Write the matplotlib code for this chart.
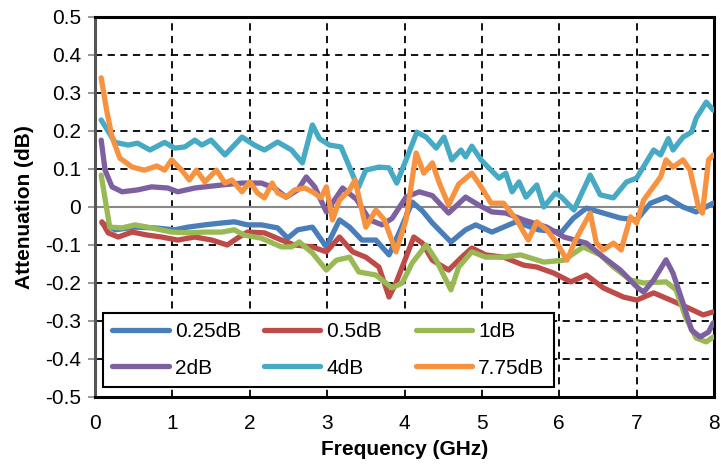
import matplotlib
matplotlib.use("Agg")
from matplotlib import pyplot as plt
import numpy as np

plt.rcParams['font.family'] = ['Liberation Sans', 'DejaVu Sans']

# frequency (GHz) / attenuation (dB)
f_025 = [0.09, 0.26, 0.52, 0.77, 1.03, 1.2, 1.42, 1.64, 1.8, 1.97, 2.15, 2.36, 2.49, 2.62, 2.81,
         2.99, 3.16, 3.29, 3.45, 3.63, 3.8, 3.93, 4.1, 4.23, 4.36, 4.6, 4.79, 4.92, 5.13, 5.28,
         5.44, 5.73, 6.03, 6.18, 6.35, 6.57, 6.79, 7.0, 7.18, 7.38, 7.6, 7.77, 7.99]
a_025 = [-0.042, -0.06, -0.053, -0.055, -0.06, -0.053, -0.047, -0.042, -0.039, -0.047, -0.047, -0.055, -0.082, -0.06, -0.053,
         -0.105, -0.034, -0.053, -0.087, -0.087, -0.126, -0.068, 0.013, -0.01, -0.042, -0.092, -0.06, -0.047, -0.066, -0.053,
         -0.039, -0.06, -0.066, -0.03, -0.003, -0.016, -0.029, -0.034, 0.01, 0.026, 0.0, -0.013, 0.01]

f_05 = [0.09, 0.17, 0.3, 0.48, 0.68, 0.86, 1.07, 1.29, 1.51, 1.71, 1.84, 1.97, 2.19, 2.41, 2.58, 2.81,
        2.99, 3.16, 3.33, 3.5, 3.67, 3.8, 3.89, 4.02, 4.12, 4.23, 4.36, 4.57, 4.74, 4.87, 5.05,
        5.28, 5.54, 5.71, 5.93, 6.15, 6.35, 6.57, 6.83, 7.0, 7.22, 7.44, 7.64, 7.86, 7.99]
a_05 = [-0.039, -0.068, -0.079, -0.066, -0.074, -0.079, -0.087, -0.079, -0.087, -0.1, -0.082, -0.066, -0.068, -0.087, -0.1, -0.105,
        -0.118, -0.079, -0.118, -0.132, -0.158, -0.237, -0.2, -0.132, -0.079, -0.095, -0.14, -0.166, -0.132, -0.108, -0.126,
        -0.132, -0.153, -0.158, -0.174, -0.197, -0.179, -0.213, -0.237, -0.245, -0.226, -0.245, -0.263, -0.284, -0.276]

f_1 = [0.08, 0.19, 0.35, 0.52, 0.73, 0.99, 1.2, 1.42, 1.64, 1.8, 1.93, 2.15, 2.41, 2.54, 2.64, 2.81,
       2.99, 3.12, 3.29, 3.41, 3.63, 3.84, 3.97, 4.1, 4.28, 4.41, 4.6, 4.7, 4.87, 5.05, 5.28,
       5.5, 5.8, 6.06, 6.31, 6.53, 6.7, 6.92, 7.09, 7.38, 7.51, 7.63, 7.77, 7.9, 7.99]
a_1 = [0.084, -0.053, -0.055, -0.047, -0.055, -0.066, -0.068, -0.066, -0.066, -0.06, -0.074, -0.082, -0.105, -0.105, -0.092, -0.121,
       -0.166, -0.14, -0.132, -0.171, -0.179, -0.213, -0.2, -0.147, -0.1, -0.14, -0.218, -0.158, -0.118, -0.132, -0.132,
       -0.126, -0.145, -0.14, -0.105, -0.126, -0.158, -0.192, -0.2, -0.197, -0.218, -0.289, -0.345, -0.355, -0.342]

f_2 = [0.08, 0.13, 0.22, 0.35, 0.55, 0.73, 0.94, 1.07, 1.29, 1.64, 1.9, 2.15, 2.32, 2.47, 2.62, 2.73,
       2.84, 2.99, 3.2, 3.38, 3.55, 3.71, 3.84, 4.02, 4.19, 4.36, 4.57, 4.79, 4.96, 5.13, 5.31,
       5.54, 5.84, 6.06, 6.35, 6.57, 6.79, 7.0, 7.09, 7.22, 7.38, 7.47, 7.6, 7.71, 7.82, 7.93, 7.99]
a_2 = [0.176, 0.097, 0.053, 0.04, 0.045, 0.053, 0.05, 0.04, 0.05, 0.058, 0.063, 0.063, 0.05, 0.026, 0.045, 0.079,
       0.053, -0.013, 0.05, 0.02, -0.034, -0.047, -0.03, 0.026, 0.04, 0.03, -0.016, 0.026, 0.005, -0.013, -0.016,
       -0.034, -0.053, -0.079, -0.095, -0.132, -0.166, -0.21, -0.224, -0.192, -0.139, -0.174, -0.253, -0.324, -0.342, -0.329, -0.305]

f_4 = [0.08, 0.26, 0.43, 0.55, 0.71, 0.9, 1.03, 1.16, 1.29, 1.38, 1.5, 1.68, 1.9, 2.06, 2.19, 2.36, 2.54,
       2.68, 2.81, 2.9, 3.03, 3.18, 3.3, 3.4, 3.5, 3.67, 3.8, 3.9, 4.02, 4.16, 4.28, 4.41, 4.51, 4.61,
       4.73, 4.79, 4.87, 4.99, 5.09, 5.22, 5.31, 5.39, 5.48, 5.57, 5.71, 5.8, 5.95, 6.03, 6.19, 6.4,
       6.53, 6.7, 6.87, 7.0, 7.22, 7.31, 7.41, 7.47, 7.6, 7.71, 7.77, 7.9, 7.99]
a_4 = [0.229, 0.17, 0.163, 0.168, 0.15, 0.17, 0.155, 0.158, 0.176, 0.163, 0.176, 0.137, 0.184, 0.163, 0.15, 0.171, 0.15,
       0.116, 0.216, 0.18, 0.163, 0.158, 0.1, 0.05, 0.097, 0.105, 0.103, 0.063, 0.124, 0.197, 0.184, 0.155, 0.184, 0.124,
       0.15, 0.132, 0.16, 0.124, 0.103, 0.076, 0.089, 0.04, 0.066, 0.026, 0.058, 0.0, 0.037, 0.026, -0.008, 0.084,
       0.032, 0.024, 0.066, 0.076, 0.15, 0.137, 0.18, 0.15, 0.184, 0.197, 0.234, 0.276, 0.255]

f_775 = [0.08, 0.15, 0.22, 0.32, 0.48, 0.64, 0.8, 0.9, 0.99, 1.12, 1.22, 1.31, 1.42, 1.57, 1.68, 1.77,
         1.9, 2.0, 2.1, 2.19, 2.29, 2.36, 2.47, 2.58, 2.71, 2.81, 2.92, 2.99, 3.07, 3.16, 3.29,
         3.36, 3.5, 3.63, 3.74, 3.89, 4.02, 4.15, 4.25, 4.36, 4.45, 4.57, 4.7, 4.87, 4.99, 5.12, 5.28,
         5.45, 5.6, 5.71, 5.84, 5.97, 6.1, 6.21, 6.4, 6.48, 6.57, 6.7, 6.8, 6.92, 7.0, 7.09,
         7.31, 7.38, 7.47, 7.6, 7.69, 7.8, 7.85, 7.93, 7.99]
a_775 = [0.34, 0.255, 0.184, 0.129, 0.105, 0.097, 0.108, 0.097, 0.124, 0.097, 0.071, 0.097, 0.066, 0.097, 0.063, 0.071,
         0.04, 0.066, 0.037, 0.024, 0.063, 0.037, 0.026, 0.045, 0.05, 0.04, 0.024, 0.053, -0.034, 0.018, 0.045,
         0.071, -0.053, -0.008, -0.034, -0.118, -0.034, 0.142, 0.089, 0.116, 0.063, 0.005, 0.06, 0.089, 0.053, 0.01, 0.01,
         -0.034, -0.087, -0.039, -0.06, -0.095, -0.14, -0.087, -0.016, -0.095, -0.113, -0.095, -0.113, -0.026, -0.042, 0.018,
         0.079, 0.124, 0.105, 0.124, 0.097, 0.0, -0.016, 0.124, 0.137]

labels = ['0.25dB', '0.5dB', '1dB', '2dB', '4dB', '7.75dB']
colors = ['#4A7EBB', '#BE4B48', '#98B954', '#7D60A0', '#46AAC5', '#F69240']
freqs = [f_025, f_05, f_1, f_2, f_4, f_775]
atts = [a_025, a_05, a_1, a_2, a_4, a_775]

fig = plt.figure(figsize=(7.21, 4.70), dpi=100)
ax = fig.add_axes([95 / 721, 1 - 397 / 470, 619 / 721, 380 / 470])

# dashed grid, the zero line is the grey category axis
for gx in range(1, 9):
    ax.axvline(gx, color='black', lw=1.3, ls=(0, (4, 3)), zorder=1)
for gy in np.arange(-0.4, 0.45, 0.1):
    if abs(gy) > 1e-6:
        ax.axhline(gy, color='black', lw=1.3, ls=(0, (4, 3)), zorder=1)
ax.axhline(0, color='#888888', lw=1.5, zorder=2)

lines = []
for f, a, lab, col in zip(freqs, atts, labels, colors):
    ln, = ax.plot(f, a, color=col, lw=3.8, label=lab, solid_capstyle='round',
                  solid_joinstyle='round', zorder=3)
    lines.append(ln)

ax.set_xlim(0, 8)
ax.set_ylim(-0.5, 0.5)
ax.set_xticks(range(0, 9))
ax.set_yticks(np.round(np.arange(-0.5, 0.51, 0.1), 1))
ax.set_yticklabels(['-0.5', '-0.4', '-0.3', '-0.2', '-0.1', '0', '0.1', '0.2', '0.3', '0.4', '0.5'])
ax.tick_params(axis='x', length=0, pad=12, labelsize=15)
ax.tick_params(axis='y', length=5, width=1.2, color='#888888', pad=5, labelsize=15, direction='out')

for s in ax.spines.values():
    s.set_color('black')
    s.set_linewidth(2.2)
ax.spines['left'].set_color('#555555')

ax.set_xlabel('Frequency (GHz)', fontsize=15, fontweight='bold', labelpad=5)
ax.set_ylabel('Attenuation (dB)', fontsize=15, fontweight='bold', labelpad=8)

# legend fills row by row in the reference (Excel), matplotlib fills by column
order = [0, 3, 1, 4, 2, 5]
leg_labels = [labels[i] for i in order]
leg_labels[2] = leg_labels[2] + '  '   # Excel keeps columns the same width
leg = ax.legend([lines[i] for i in order], leg_labels, loc='lower left',
                bbox_to_anchor=(0.013, 0.026), ncol=3, fontsize=15,
                frameon=True, fancybox=False, borderaxespad=0, handlelength=2.7,
                handletextpad=0.3, columnspacing=1.1, borderpad=0.45, labelspacing=0.85)
leg.get_frame().set_edgecolor('black')
leg.get_frame().set_linewidth(1.5)
leg.get_frame().set_alpha(1)

fig.savefig('out.png', dpi=100)
